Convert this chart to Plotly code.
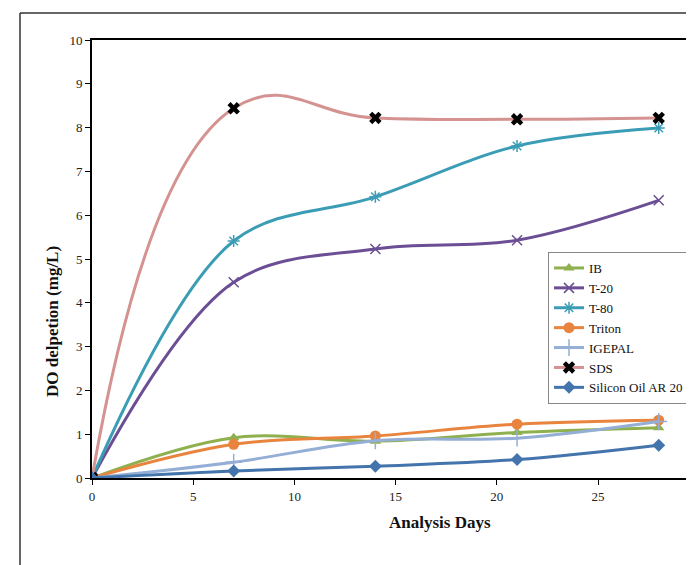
import plotly.graph_objects as go

days = [0, 7, 14, 21, 28]
ib = [0, 0.92, 0.84, 1.04, 1.15]
t20 = [0, 4.47, 5.23, 5.43, 6.34]
t80 = [0, 5.41, 6.42, 7.58, 7.99]
triton = [0, 0.77, 0.96, 1.23, 1.32]
igepal = [0, 0.36, 0.85, 0.91, 1.29]
sds = [0, 8.44, 8.22, 8.19, 8.22]
silicon = [0, 0.16, 0.27, 0.42, 0.75]

series = [
    ("IB", ib, "#8FB04F", dict(symbol="triangle-up", size=10, color="#8FB04F"), 1.0),
    ("T-20", t20, "#6B4E94", dict(symbol="x-thin", size=10, color="#6B4E94", line=dict(width=1.5, color="#6B4E94")), 1.0),
    ("T-80", t80, "#3B9DB5", dict(symbol="asterisk", size=10, color="#3B9DB5", line=dict(width=1.5, color="#3B9DB5")), 1.0),
    ("Triton", triton, "#E8843E", dict(symbol="circle", size=11, color="#E8843E"), 1.0),
    ("IGEPAL", igepal, "#94AED6", dict(symbol="cross-thin", size=12, color="#94AED6", line=dict(width=1.5, color="#94AED6")), 1.0),
    ("SDS", sds, "#D49291", dict(symbol="x", size=11, color="black"), 1.3),
    ("Silicon Oil AR 20", silicon, "#4474AC", dict(symbol="diamond", size=10, color="#4474AC"), 1.0),
]

fig = go.Figure()
for name, vals, col, mk, sm in series:
    fig.add_trace(go.Scatter(
        x=days, y=vals, name=name, mode="lines+markers",
        line=dict(color=col, width=3, shape="spline", smoothing=sm),
        marker=mk,
    ))

# page has an 8px body margin; figure is offset by 8px
OFF = 8
L, T, B = 92 - OFF, 40 - OFF, 87
W, H = 694 - OFF, 565 - OFF
PW = W - L  # plot width
PH = H - T - B  # plot height
bottom = 478 - OFF

def px(xs):
    return (xs - OFF - L) / PW

def py(ys):
    return (bottom - (ys - OFF)) / PH

fig.update_layout(
    width=W, height=H,
    margin=dict(l=L, r=0, t=T, b=B),
    paper_bgcolor="white", plot_bgcolor="white",
    font=dict(family="Liberation Serif", size=13, color="#222"),
    showlegend=True,
    legend=dict(x=px(548), y=py(252), xanchor="left", yanchor="top",
                bordercolor="#888", borderwidth=1, bgcolor="white",
                font=dict(family="Liberation Serif", size=13, color="#111"),
                tracegroupgap=0, itemwidth=30),
    xaxis=dict(range=[0, PW / 20.24], tickvals=[0, 5, 10, 15, 20, 25],
               showgrid=False, zeroline=False, showline=True, linecolor="black",
               linewidth=2, mirror=True, ticks="outside", ticklen=5,
               tickcolor="black", tickfont=dict(size=13)),
    yaxis=dict(range=[0, 10], dtick=1, showgrid=False, zeroline=False,
               showline=True, linecolor="black", linewidth=2,
               ticks="outside", ticklen=5, tickcolor="black",
               tickfont=dict(size=13)),
    shapes=[
        dict(type="line", xref="paper", yref="paper",
             x0=px(20), x1=1.05, y0=py(13), y1=py(13),
             line=dict(color="#333", width=1.5)),
        dict(type="line", xref="paper", yref="paper",
             x0=px(20), x1=px(20), y0=py(13), y1=py(600),
             line=dict(color="#333", width=1.5)),
    ],
    annotations=[
        dict(text="<b>Analysis Days</b>", xref="paper", yref="paper",
             x=px(440), y=py(522), xanchor="center", yanchor="middle",
             showarrow=False, font=dict(family="Liberation Serif", size=17, color="#111")),
        dict(text="<b>DO delpetion (mg/L)</b>", xref="paper", yref="paper",
             x=px(52), y=py(322), xanchor="center", yanchor="middle",
             textangle=-90, showarrow=False,
             font=dict(family="Liberation Serif", size=17, color="#111")),
    ],
)

fig.write_html("out.html")
